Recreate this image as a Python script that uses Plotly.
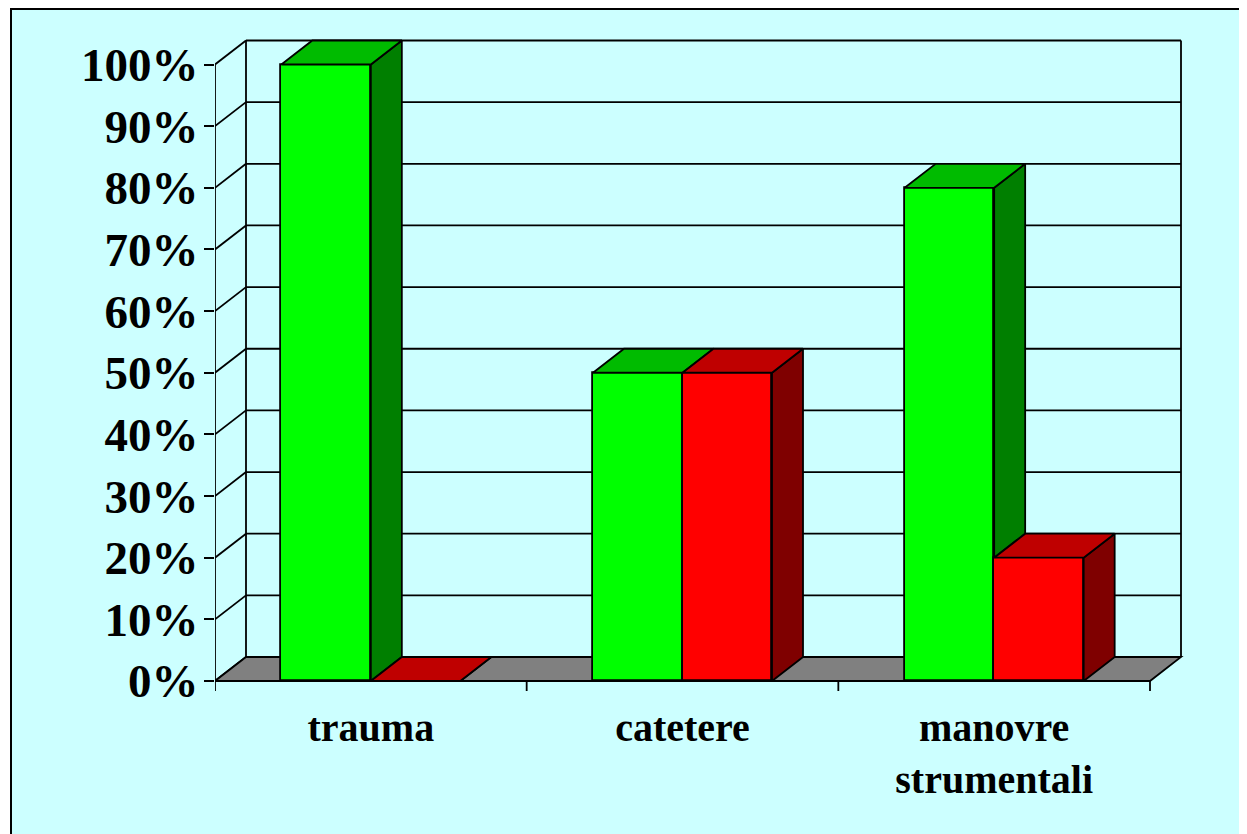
import plotly.graph_objects as go

categories = ["trauma", "catetere", "manovre<br>strumentali"]
green_values = [100, 50, 80]
red_values = [0, 50, 20]
y_ticks = [0, 10, 20, 30, 40, 50, 60, 70, 80, 90, 100]
y_tick_labels = [f"{v}%" for v in y_ticks]

# colours
BG = "#CCFFFF"
GREEN_FRONT, GREEN_TOP, GREEN_SIDE = "#00FF00", "#00BB00", "#007F00"
RED_FRONT, RED_TOP, RED_SIDE = "#FF0000", "#BF0000", "#7F0000"
FLOOR = "#808080"

# page offset of the figure (default body margin)
OFF = 8
W, H = 1247 - OFF, 834 - OFF
# plot area in page pixels
PX_L, PX_R, PX_T, PX_B = 215, 1190, 30, 700
X_PPU = (1150 - 215) / 3.0           # px per category
Y0_PX, Y100_PX = 681, 64.5
Y_PPU = (Y0_PX - Y100_PX) / 100.0    # px per percent
DX = 31 / X_PPU                      # depth offset in x units
DY = 24 / Y_PPU                      # depth offset in y units
BAR_W = 89.5 / X_PPU
x_range = [0, (PX_R - PX_L) / X_PPU]
y_range = [-(PX_B - Y0_PX) / Y_PPU, (Y0_PX - PX_T) / Y_PPU]

n = len(categories)
centers = [i + 0.5 for i in range(n)]
LINE = dict(color="black", width=1.8)

fig = go.Figure()
shapes = []


def ppx(px):
    return (px - PX_L) / (PX_R - PX_L)


def ppy(py):
    return (PX_B - py) / (PX_B - PX_T)


# outer frame
shapes.append(dict(type="rect", xref="paper", yref="paper", layer="below",
                   x0=ppx(11), x1=ppx(1270), y0=ppy(860), y1=ppy(OFF + 1),
                   fillcolor=BG, line=dict(color="black", width=2)))

# wall gridlines (back wall + side wall)
for v in y_ticks:
    shapes.append(dict(type="line", xref="x", yref="y", layer="below",
                       x0=DX, x1=n + DX, y0=v + DY, y1=v + DY, line=LINE))
    shapes.append(dict(type="line", xref="x", yref="y", layer="below",
                       x0=0, x1=DX, y0=v, y1=v + DY, line=LINE))
for xv in (DX, n + DX):
    shapes.append(dict(type="line", xref="x", yref="y", layer="below",
                       x0=xv, x1=xv, y0=DY, y1=100 + DY, line=LINE))
# floor
shapes.append(dict(type="path", xref="x", yref="y", layer="below",
                   path=f"M 0,0 L {n},0 L {n + DX},{DY} L {DX},{DY} Z",
                   fillcolor=FLOOR, line=LINE))
# front axis lines and category ticks
shapes.append(dict(type="line", xref="x", yref="y", layer="below",
                   x0=0, x1=0, y0=0, y1=100, line=LINE))
shapes.append(dict(type="line", xref="x", yref="y", layer="below",
                   x0=0, x1=n, y0=0, y1=0, line=LINE))
for i in range(n + 1):
    shapes.append(dict(type="line", xref="x", yref="y", layer="below",
                       x0=i, x1=i, y0=0, y1=-10 / Y_PPU, line=LINE))

# front faces of the bars
fig.add_trace(go.Bar(x=[c - BAR_W / 2 for c in centers], y=green_values, width=BAR_W,
                     marker=dict(color=GREEN_FRONT, line=LINE), name="green",
                     showlegend=False))
fig.add_trace(go.Bar(x=[c + BAR_W / 2 for c in centers], y=red_values, width=BAR_W,
                     marker=dict(color=RED_FRONT, line=LINE), name="red",
                     showlegend=False))


def poly(xs, ys, color):
    fig.add_trace(go.Scatter(x=xs + [xs[0]], y=ys + [ys[0]], mode="lines",
                             fill="toself", fillcolor=color, line=LINE,
                             hoverinfo="skip", showlegend=False))


for c, g, r in zip(centers, green_values, red_values):
    gl, gr = c - BAR_W, c
    rl, rr = c, c + BAR_W
    if g > r:
        poly([gr, gr, gr + DX, gr + DX], [r, g, g + DY, r + DY], GREEN_SIDE)
    poly([gl, gr, gr + DX, gl + DX], [g, g, g + DY, g + DY], GREEN_TOP)
    poly([rr, rr, rr + DX, rr + DX], [0, r, r + DY, DY], RED_SIDE)
    poly([rl, rr, rr + DX, rl + DX], [r, r, r + DY, r + DY], RED_TOP)

fig.update_layout(
    width=W, height=H,
    margin=dict(l=PX_L - OFF, r=W - (PX_R - OFF), t=PX_T - OFF, b=H - (PX_B - OFF)),
    paper_bgcolor="white", plot_bgcolor="rgba(0,0,0,0)",
    barmode="overlay", bargap=0,
    shapes=shapes,
    showlegend=False,
    xaxis=dict(range=x_range, showgrid=False, zeroline=False, showline=False,
               tickvals=centers, ticktext=categories, ticks="",
               tickfont=dict(family="Liberation Serif", size=40, color="black",
                             weight="bold"),
               ticklabelstandoff=0, fixedrange=True),
    yaxis=dict(range=y_range, showgrid=False, zeroline=False, showline=False,
               tickvals=y_ticks, ticktext=y_tick_labels, ticks="outside",
               ticklen=10, tickwidth=1.8, tickcolor="black",
               tickfont=dict(family="Liberation Serif", size=47, color="black",
                             weight="bold"),
               ticklabelstandoff=-4, fixedrange=True),
)

fig.write_html("out.html")
